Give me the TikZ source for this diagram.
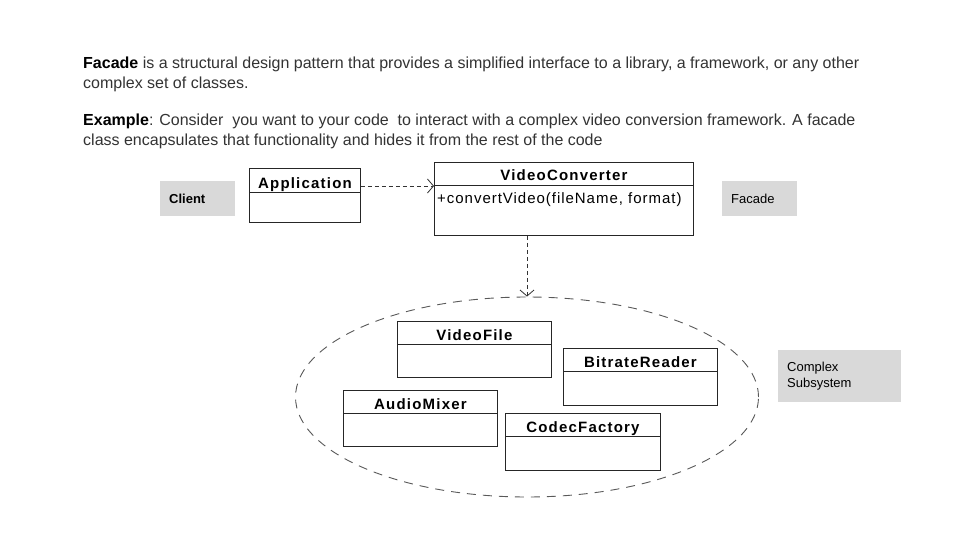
\documentclass[tikz,border=0pt]{standalone}
\usepackage{fontspec}
\setmainfont{Liberation Sans}
\newfontfamily\classfont[LetterSpace=8]{Liberation Sans}
\newfontfamily\methodfont[LetterSpace=6.5]{Liberation Sans}
\usetikzlibrary{shapes.geometric,arrows.meta,calc}

\definecolor{notegray}{HTML}{D9D9D9}
\definecolor{textgray}{HTML}{333333}

\tikzset{
  classbox/.style={draw=black!85, fill=white, line width=0.9pt, anchor=north west, inner sep=0pt},
  classname/.style={font=\classfont\bfseries\fontsize{15}{18}\selectfont, inner sep=0pt, anchor=base},
  method/.style={font=\methodfont\fontsize{15}{18}\selectfont, inner sep=0pt, anchor=base west},
  note/.style={fill=notegray, anchor=north west, inner xsep=9pt, inner ysep=0pt, align=left,
    font=\fontsize{13}{16}\selectfont},
  para/.style={anchor=north west, inner sep=0pt, align=left, text=textgray,
    font=\fontsize{16}{19.5}\selectfont},
  dep/.style={draw=black!80, line width=0.8pt, dash pattern=on 4pt off 3pt,
    -{Straight Barb[length=6pt,width=14pt]}}
}

% name, left, top, width, height, title height, title
\newcommand{\umlclass}[7]{%
  \node[classbox, minimum width=#4pt, minimum height=#5pt] (#1) at (#2,#3) {};
  \draw[black!85, line width=0.9pt] ($(#1.north west)+(0,#6)$) -- ($(#1.north east)+(0,#6)$);
  \node[classname] (#1-title) at ($(#1.north)+(0,#6-4)$) {#7};
}

\begin{document}
\begin{tikzpicture}[x=1pt, y=-1pt]
  \useasboundingbox[fill=white] (0,0) rectangle (960,540);

  % text
  \node[para] (intro) at (83,57) {\textcolor{black}{\textbf{Facade}} is a structural design pattern that provides a simplified interface to a library, a framework, or any other\\complex set of classes.};
  \node[para] (example) at (83,114) {\textcolor{black}{\textbf{Example}}: Consider\ \ you want to your code\ \ to interact with a complex video conversion framework. A facade\\class encapsulates that functionality and hides it from the rest of the code};

  % labels
  \node[note, minimum width=75pt, minimum height=35pt, text width=57pt] (client) at (160,181) {\textbf{Client}};
  \node[note, minimum width=75pt, minimum height=35pt, text width=57pt] (facade) at (722,181) {Facade};
  \node[note, minimum width=123pt, minimum height=52pt, text width=105pt] (complex) at (778,350) {Complex\\Subsystem};

  % facade
  \umlclass{app}{249}{168}{111}{54}{24}{Application}
  \umlclass{vc}{434}{162}{259}{73}{23}{VideoConverter}
  \node[method] (vc-m) at ($(vc.north west)+(3,41)$) {+convertVideo(fileName, format)};

  % subsystem
  \node[ellipse, draw=black!65, line width=0.9pt, dash pattern=on 9pt off 7pt,
    minimum width=463pt, minimum height=200pt] (sub) at (527,397) {};
  \umlclass{vf}{397}{321}{154}{56}{23}{VideoFile}
  \umlclass{br}{563}{348}{154}{57}{23}{BitrateReader}
  \umlclass{am}{343}{390}{154}{56}{23}{AudioMixer}
  \umlclass{cf}{505}{413}{155}{57}{23}{CodecFactory}

  % dependencies
  \coordinate (app-out) at ($(app.north east)+(0,18)$);
  \draw[dep] (app-out) -- (vc.west |- app-out);
  \draw[dep] (vc.south -| sub.north) -- (sub.north);
\end{tikzpicture}
\end{document}
